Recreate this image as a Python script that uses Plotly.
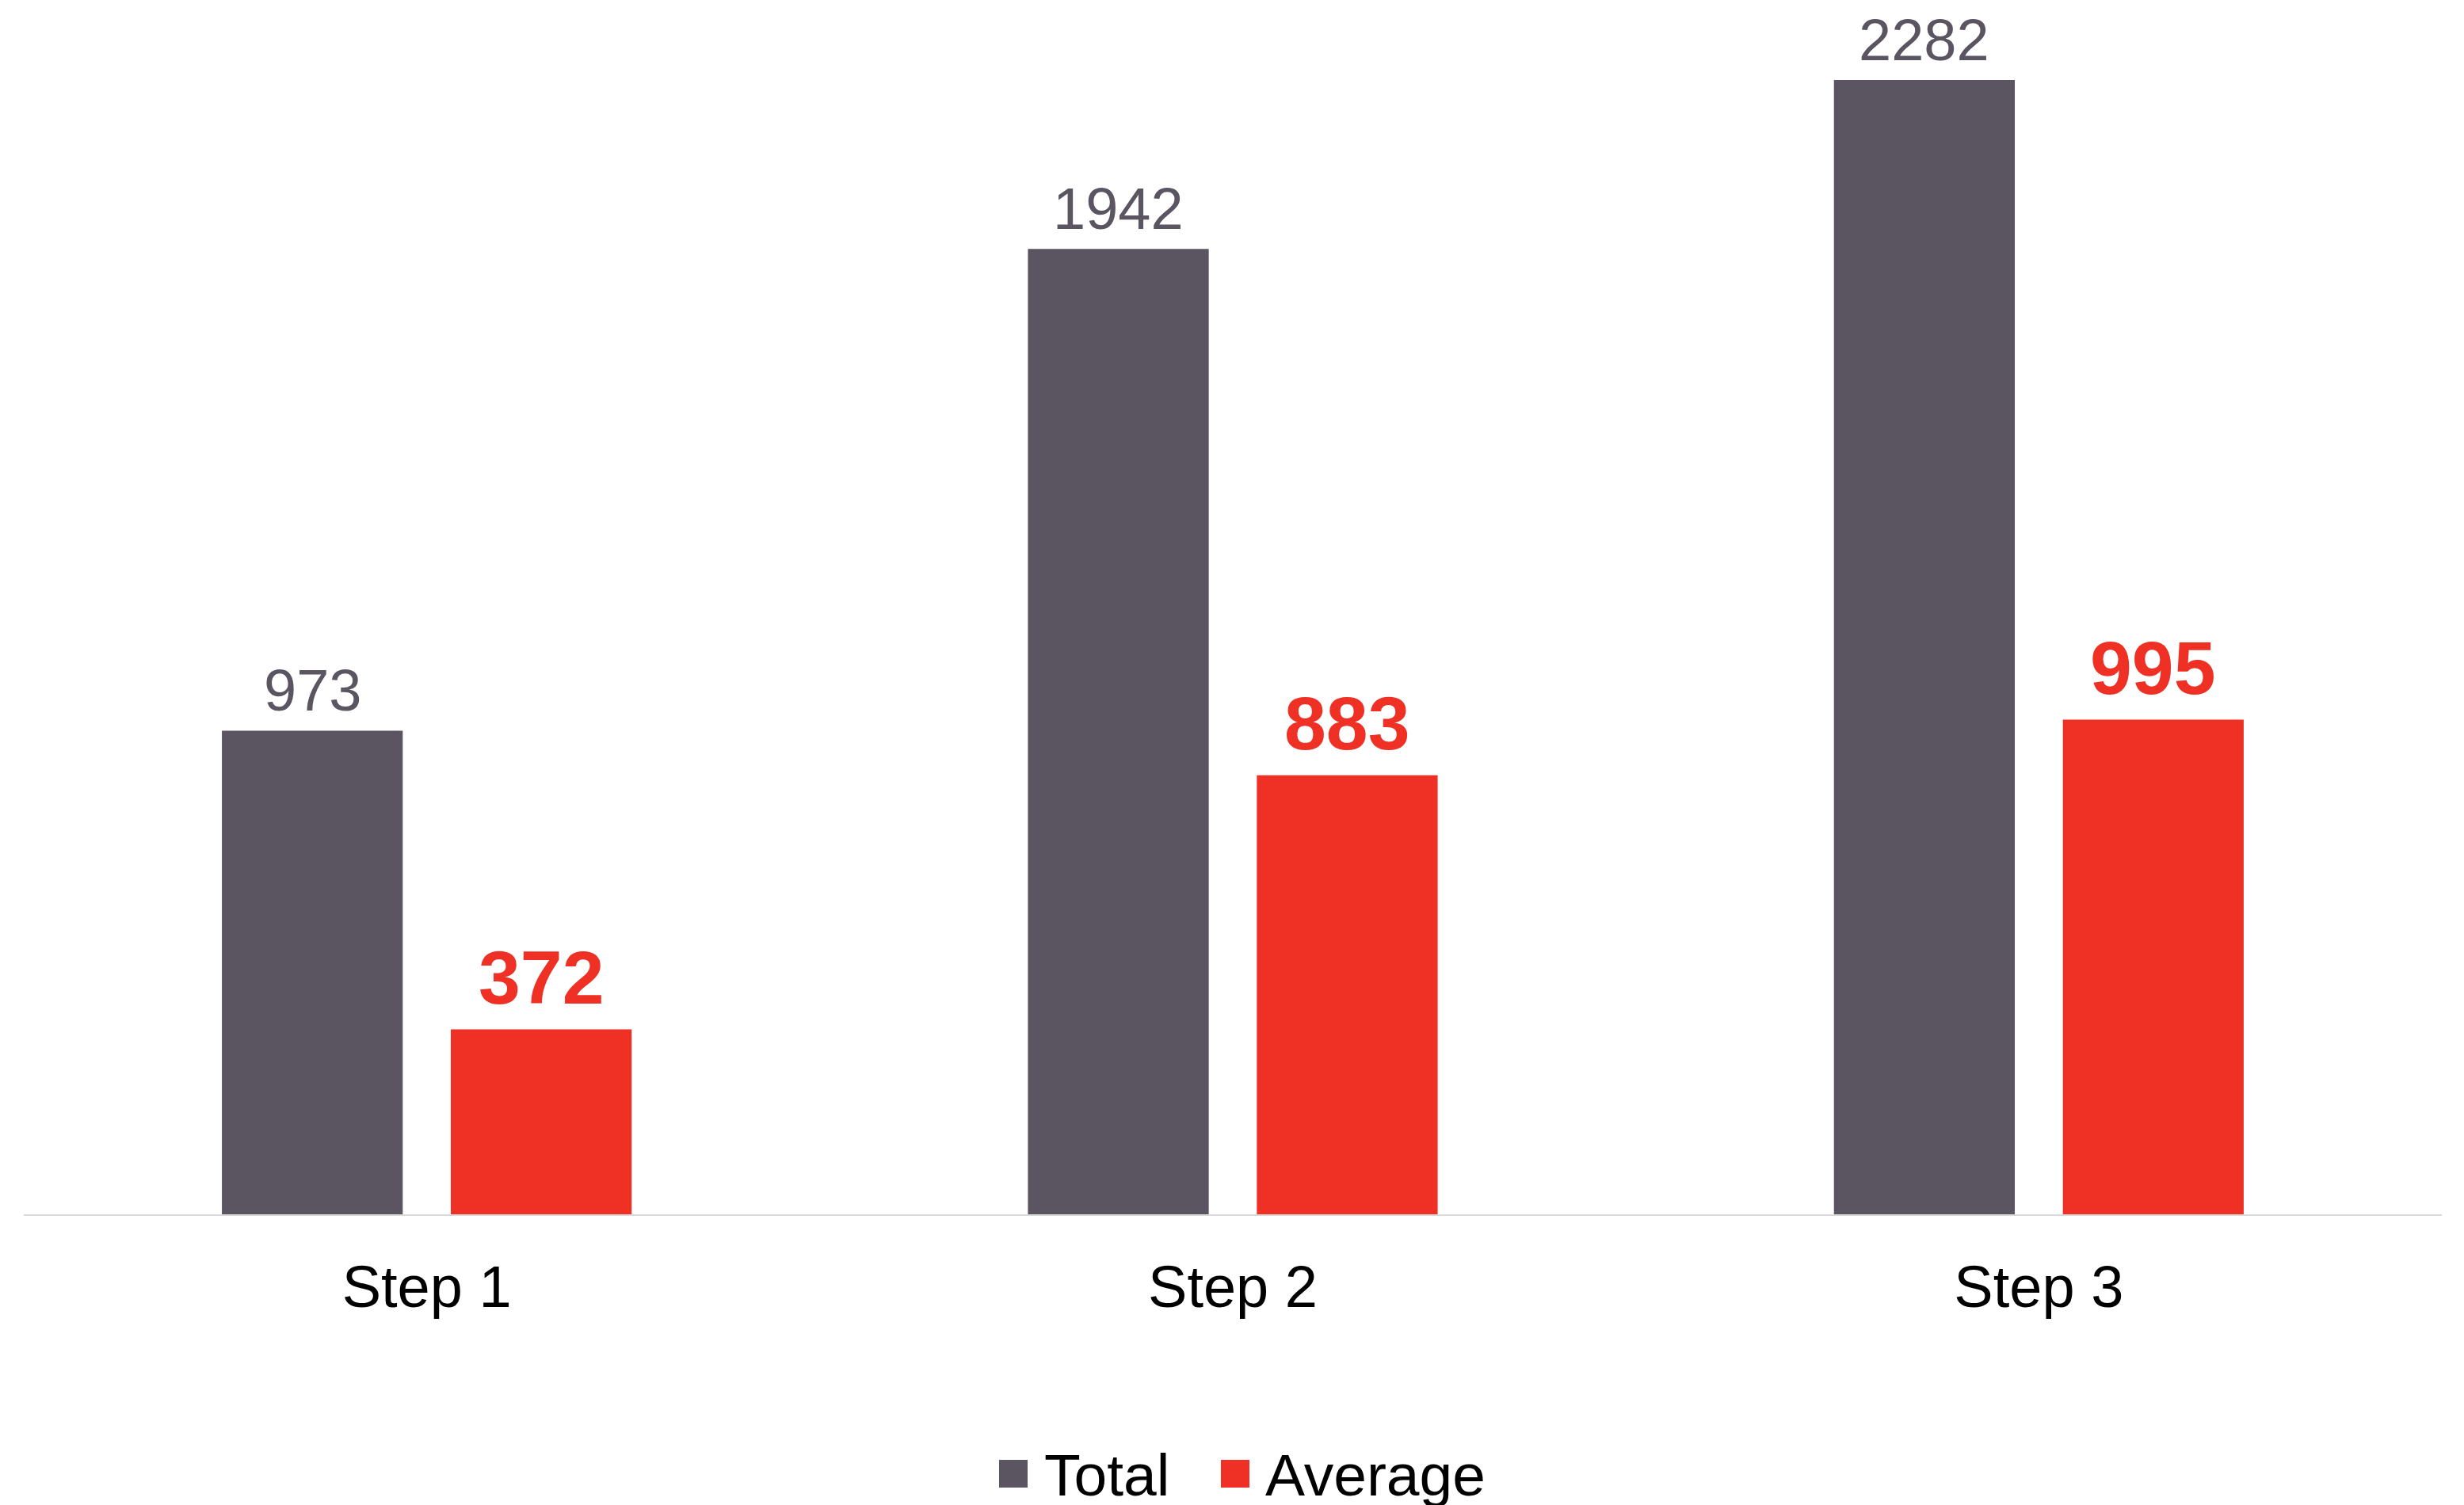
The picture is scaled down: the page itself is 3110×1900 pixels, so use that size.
import plotly.graph_objects as go

categories = ["Step 1", "Step 2", "Step 3"]
total_values = [973, 1942, 2282]
average_values = [372, 883, 995]
series_names = ["Total", "Average"]

GRAY = "#5a5561"
RED = "#ef3125"
FONT = "Liberation Sans, Arial, sans-serif"

W, H = 3110, 1900
OFF = 8  # page body margin
ML, MR, MT, MB = 22, 36, 22, 375
plot_w = W - ML - MR
plot_h = H - MT - MB

BARGAP, BARGROUPGAP = 0.432, 0.21
cat_px = plot_w / len(categories)
slot_px = cat_px * (1 - BARGAP) / 2
shift_px = slot_px / 2

fig = go.Figure()
fig.add_trace(go.Bar(
    name=series_names[0], x=categories, y=total_values,
    marker=dict(color=GRAY, line=dict(width=0)),
    showlegend=False, hoverinfo="x+y",
))
fig.add_trace(go.Bar(
    name=series_names[1], x=categories, y=average_values,
    marker=dict(color=RED, line=dict(width=0)),
    showlegend=False, hoverinfo="x+y",
))

annotations = []
for c, v in zip(categories, total_values):
    annotations.append(dict(x=c, y=v, xref="x", yref="y", text=str(v),
                            xanchor="center", yanchor="bottom", showarrow=False,
                            xshift=-shift_px, yshift=7,
                            font=dict(family=FONT, size=74, color=GRAY)))
for c, v in zip(categories, average_values):
    annotations.append(dict(x=c, y=v, xref="x", yref="y", text=str(v),
                            xanchor="center", yanchor="bottom", showarrow=False,
                            xshift=shift_px, yshift=11,
                            font=dict(family=FONT, size=95, color=RED, weight="bold")))

def px_to_paper_x(px):
    return (px - OFF - ML) / plot_w

def px_to_paper_y(py):
    return (H - MB - (py - OFF)) / plot_h

# legend drawn as squares + labels (screen pixel positions)
legend_items = [(series_names[0], GRAY, 1261, 1316), (series_names[1], RED, 1541, 1595)]
shapes = []
for name, col, sq_x, tx_x in legend_items:
    shapes.append(dict(type="rect", xref="paper", yref="paper",
                       x0=px_to_paper_x(sq_x), x1=px_to_paper_x(sq_x + 36),
                       y0=px_to_paper_y(1878), y1=px_to_paper_y(1843),
                       fillcolor=col, line=dict(width=0)))
    annotations.append(dict(text=name, xref="paper", yref="paper",
                            x=px_to_paper_x(tx_x), y=px_to_paper_y(1862),
                            xanchor="left", yanchor="middle", showarrow=False,
                            font=dict(family=FONT, size=75, color="#000000")))

fig.update_layout(
    width=W, height=H,
    margin=dict(l=ML, r=MR, t=MT, b=MB, pad=0),
    paper_bgcolor="white", plot_bgcolor="white",
    barmode="group", bargap=BARGAP, bargroupgap=BARGROUPGAP,
    font=dict(family=FONT, size=74, color="#000000"),
    shapes=shapes, annotations=annotations,
    xaxis=dict(
        showline=True, linecolor="#d9d9d9", linewidth=2,
        showgrid=False, zeroline=False,
        ticks="outside", ticklen=26, tickcolor="rgba(0,0,0,0)",
        tickfont=dict(family=FONT, size=74, color="#000000"),
    ),
    yaxis=dict(
        range=[0, 2395], showgrid=False, zeroline=False,
        showline=False, showticklabels=False, ticks="",
    ),
)

fig.write_html("out.html")
